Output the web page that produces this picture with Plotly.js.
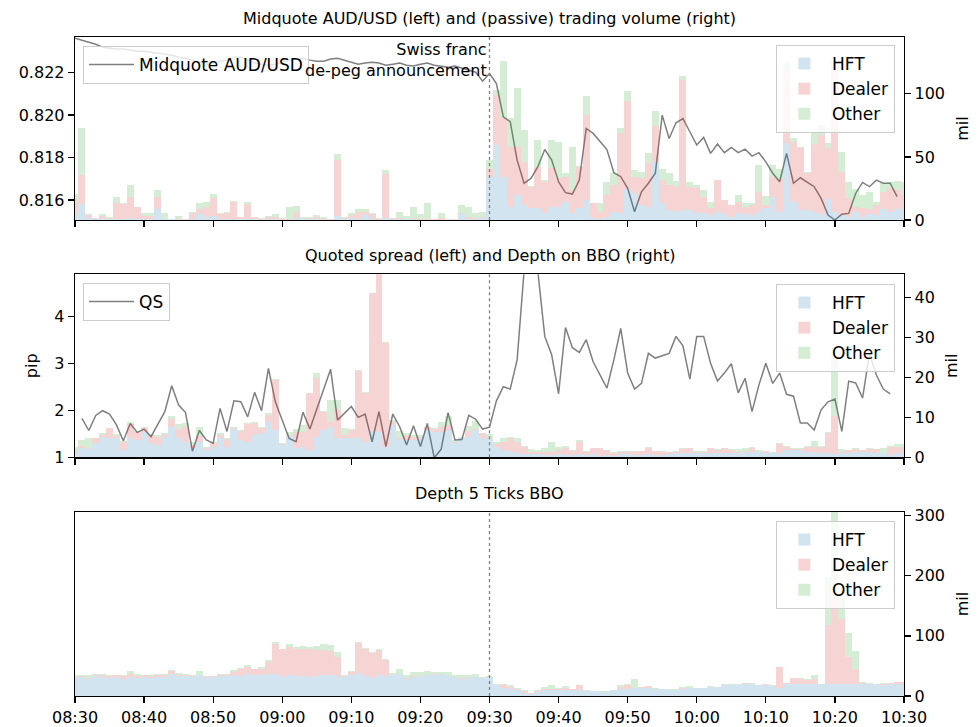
<!DOCTYPE html>
<html>
<head>
<meta charset="utf-8">
<script src="https://cdn.plot.ly/plotly-3.0.1.min.js"></script>
<style>html,body{margin:0;padding:0;background:#fff;}#chart{width:979px;height:727px;}</style>
</head>
<body>
<div id="chart"></div>
<script>
// ---- time grid: one observation per minute, 08:30 .. 10:30 (15 Jan 2015) ----
const DAY = "2015-01-15";
const START_MIN = 8 * 60 + 30;
const N_BARS = 121;
function minuteLabel(k) {
  const m = START_MIN + k;
  const h = Math.floor(m / 60), mm = m % 60;
  return DAY + " " + String(h).padStart(2, "0") + ":" + String(mm).padStart(2, "0");
}
const times = [];
for (let k = 0; k < N_BARS; k++) times.push(minuteLabel(k));

const tickTimes = ["08:30","08:40","08:50","09:00","09:10","09:20","09:30","09:40","09:50","10:00","10:10","10:20","10:30"];
const eventTime = "09:30";

// ---- Panel 1: midquote (left) and passive trading volume (right, mil) ----
const midquote = [0.82362,0.82353,0.82344,0.82334,0.8232,0.82315,0.82311,0.82311,0.82306,0.82301,
0.82301,0.82297,0.82292,0.82287,0.82282,0.82273,0.82268,0.82259,0.82249,0.8224,
0.82245,0.82254,0.82259,0.82273,0.82273,0.82259,0.82245,0.8224,0.82235,0.8224,
0.82249,0.82259,0.82264,0.82268,0.82259,0.82254,0.82254,0.82264,0.82268,0.82259,
0.82249,0.8224,0.82245,0.82249,0.82245,0.82235,0.8224,0.82245,0.82235,0.82231,
0.8224,0.82245,0.82235,0.82231,0.82226,0.82231,0.82221,0.82212,0.82202,0.8216,
0.82196,0.82149,0.81992,0.81969,0.81788,0.81679,0.81702,0.81757,0.81838,0.81788,
0.81686,0.81635,0.81628,0.81694,0.81937,0.81914,0.81878,0.81838,0.81729,0.8171,
0.81655,0.81545,0.81639,0.81679,0.81726,0.82,0.8189,0.81964,0.81984,0.81922,
0.81859,0.81895,0.8182,0.81864,0.81823,0.81848,0.81823,0.8184,0.81807,0.81823,
0.8178,0.81726,0.81686,0.8182,0.81679,0.81705,0.81686,0.81663,0.81608,0.81529,
0.81506,0.81533,0.81537,0.81631,0.81683,0.81663,0.81694,0.81679,0.81679,0.81616];

const volHFT = [5,13,1.3,0.5,0.5,0.5,1.0,1.0,1.5,1.0, 0.5,0.5,8.5,0.5,0.5,0.3,0.3,0.5,4.5,2.6,
3.4,0.5,0.5,0.5,0.5,0.5,0.5,0.3,0.5,0.5, 0.3,0.3,1.9,0.5,0.5,0.5,0.3,0.3,3.4,0.5,
1.9,0.5,4.0,0.5,0.3,1.3,0.5,0.5,0.5,0.5, 0.3,0.3,0.3,0.3,0.2,0.3,4.5,0.5,0.5,1.8,
34.4,59.5,34.4,10.6,19.8,11.9,9.3,9.3,5.8,10.6, 10.6,14.6,5.3,9.3,15.9,1.3,0.5,2.6,6.6,5.8,
24.3,21.2,11.9,10.6,46.3,13.2,7.9,6.6,7.9,7.9, 5.3,5.8,4,6.6,4.5,2.6,5.3,4.5,4,6.6,
9.8,18.5,6.6,61,14.5,8,8,6.6,5,17, 6,4,2.6,6.6,2.6,5,4,9,6.6,9, 9.5];
const volDealer = [10,22.7,2.5,0.8,3.0,1.0,12.8,12.0,16.5,9.0, 2.7,2.6,9.5,0.6,0,0.3,0.3,5.3,4.5,7.4,
14.3,4.5,5.1,13.5,1.6,12.5,1.6,0.8,2.0,2.1, 0.8,0.8,4.1,0.6,1.4,2.1,0.5,0.5,44.2,1.4,
1.9,6.1,2.6,4.5,0.5,35.2,0.8,0.8,0.5,0.8, 0.5,0.5,0.3,1.0,0.2,0.3,1.3,2.1,1.3,0.8,
5.8,39.7,46.3,47.6,38.4,34.4,17.2,33,24.6,30.4, 22.4,19.8,18.5,33,67.4,11.9,6.1,17.2,21.2,63,
69.6,13.2,21.1,34.4,27.8,18.5,19.9,19.9,103.2,18.6, 19.8,12.7,5.3,25.1,11.4,9.3,9.3,6.1,7.9,15.9,
2.1,15.9,26,58,47.5,49,29,54,62,40, 115,34,14.5,4,7,4,8,13.5,18.5,15, 10.5];
const volOther = [6,37,0.8,0.3,1.3,0.5,4.7,0.5,9.8,0.5, 2.6,2.7,5.8,4.7,0.3,2.4,0.3,0.5,4.8,4.2,
2.9,0.8,0.8,1.0,0.5,1.3,0.5,0.3,0.8,2.1, 0.3,9.5,5.4,1.1,0.2,1.6,1.7,0.3,4.8,0.5,
2.0,2.1,2.1,0.6,0.5,3.2,0.3,5.0,2.2,9.3, 4.0,12.7,0.3,4.5,0.2,0.3,6.2,7.4,4.0,3.7,
7.4,4.0,45.0,22.5,46.3,25.1,0.2,21.2,1.3,22.5, 29.2,2.6,34.4,0.3,14.6,0.3,6.6,10.6,9.2,4,
8,5.3,5.4,7.9,11.9,8.5,9.2,4.7,2.7,3.9, 2.7,5.3,5.3,0.3,0.3,0.3,5.2,2.6,1.3,21.2,
7.4,9.2,8,6,3,1,1,9,8,4, 5,16,13,14,10,13,2.5,6.5,5,7, 10];

// ---- Panel 2: quoted spread (left, pip, 08:31..10:28) and depth on BBO (right, mil) ----
const qsStart = 1;
const quotedSpread = [1.83,1.57,1.89,1.99,1.92,1.69,1.35,1.72,1.53,1.60,
1.44,1.71,1.97,2.52,2.11,1.95,1.13,1.57,1.37,1.30,
2.04,1.55,2.20,2.18,1.86,2.38,1.99,2.89,2.18,1.79,
1.40,1.33,1.96,1.60,2.01,2.43,2.87,1.79,1.94,2.08,
1.85,1.92,1.33,1.97,1.23,1.92,1.65,1.26,1.67,1.23,
1.72,0.99,1.17,1.95,1.37,1.38,1.89,1.81,1.60,1.64,
2.20,2.50,2.45,3.07,4.95,5.0,4.95,3.57,3.18,2.35,
3.76,3.33,3.23,3.50,3.03,2.75,2.47,3.07,3.74,2.79,
2.45,2.57,3.21,3.11,3.16,3.21,3.57,3.37,2.66,3.57,
3.57,3.00,2.62,2.79,2.99,2.37,2.68,1.97,2.54,3.00,
2.57,2.79,2.34,2.30,1.73,1.73,1.58,2.01,2.18,2.24,
1.55,2.62,2.58,2.26,3.2,2.75,2.45,2.35];

const depHFT = [1.4,2.4,2.0,3.5,5.2,4.9,4.75,1.8,4.75,4.3, 6.4,3.5,3.1,5.2,7.7,4.9,3.9,2.4,3.9,1.8,
2.7,4.75,2.7,7.0,4.3,3.9,5.6,6.0,8.9,6.8, 3.1,5.3,2.4,2.7,1.8,5.2,6.8,7.7,4.9,4.75,
4.75,4.75,3.9,6.7,6.4,2.7,8.1,4.6,4.3,4.3, 4.75,6.8,6.4,6.4,6.8,3.7,4.75,5.2,6.8,4.75,
4.6,2.7,1.8,1.6,1.0,0.75,0.75,0.75,0.6,0.6, 0.75,0.6,0.6,0.75,0.6,0.75,0.4,0.6,0.4,0.75,
0.75,0.6,0.6,0.75,0.6,0.6,0.75,1.0,1.0,1.0, 1.0,1.0,1.0,1.0,1.0,1.0,1.0,1.25,1.25,1.25,
1.2,1.0,1.2,1.8,1.8,1.8,1.4,1.4,1.2,1.0, 0.75,1.2,1.2,1.4,1.4,1.4,1.2,1.0,0.6,1.2, 1.2];
const depDealer = [0.4,0.4,0.25,1.25,0.4,2.35,0.65,2.1,3.5,2.1, 1.0,2.1,2.1,0.6,1.9,2.2,3.8,0.7,1.5,0.45,
0.8,0.85,1.9,0.25,2.3,4.35,2.9,1.25,1.7,12.5, 0.3,0.4,4.0,3.75,14.2,14.6,4.6,1.25,7.1,0.85,
2.1,16.8,12.3,34.3,45,26,0.8,0.2,1.3,0.8, 0.4,0.7,0.8,1.25,1.4,0.25,0.2,1.4,0.4,1.25,
0.2,0.55,2.1,3.15,2.9,1.95,0.65,0.65,0.65,0.8, 1.1,1.65,1.0,3.15,0.8,1.5,1.85,1.25,0.6,0.65,
0.65,0.8,1.0,1.65,1.0,0.8,0.5,0.4,1.1,1.25, 0.4,0.4,1.25,0.8,1.25,0.8,0.4,0.35,1.15,0.2,
0.4,0.2,2.2,0.8,0.4,0.25,1.25,1.25,1.5,5.2, 9.6,0.25,0.65,0.6,0.4,0.6,0.8,0.2,2.1,1.3, 1.3];
const depOther = [0.9,1.5,2.5,0.2,0.4,0.15,0.35,0.25,0.65,0.25, 0.25,0.2,0.4,0.2,0.7,1.15,0.8,0.8,2.3,0.45,
0.4,0.4,0.3,0.4,0.25,0.25,0.4,0.4,0.4,0.4, 0.3,0.65,0.7,1.7,0.2,1.25,0.2,5.4,2.3,1.65,
0.2,0.2,0.2,0.2,0.5,0.2,0.4,1.9,0.4,0.4, 0.4,0.2,0.1,1.25,2.1,0.4,0.25,1.3,1.9,0.2,
1.0,0.65,0.85,0.45,0.85,0.1,0.65,0.4,1.0,2.5, 0.8,0.65,0.25,0.4,0.1,0.1,0.1,0.1,0.4,0.2,
0.2,0.1,0.1,0.25,0.1,0.1,0.2,0.2,0.2,0.2, 0.2,0.3,0.2,0.25,0.1,0.25,0.65,0.65,0.25,0.4,
0,0.25,0.3,0.2,0.2,0.2,0.1,1.5,0.1,0.1, 15.25,0.6,0.1,0.25,0.1,0.25,0.1,1.1,0.1,0.8, 0.8];

// ---- Panel 3: depth 5 ticks from BBO (right, mil) ----
const d5HFT = [30.0,31.7,28.9,33.3,31.7,30.6,31.7,28.9,31.7,30.6, 31.7,30.6,31.7,31.7,37.2,32.8,32.8,31.7,34.4,30.6,
31.7,33.3,32.8,35.6,33.3,37.2,34.4,35.6,37.2,37.2, 31.7,34.4,33.3,33.3,31.7,33.3,34.4,34.4,33.3,31.7,
35.6,38.9,33.3,30.0,34.4,33.3,34.4,37.2,28.9,31.7, 32.8,34.4,34.4,37.2,33.3,31.7,28.9,30.6,31.7,30.0,
31.4,17.5,13.1,11.9,9.2,5.3,3.6,6.4,9.2,9.2, 9.2,10.3,10.3,9.2,7.5,7.5,6.4,6.4,9.2,11.9,
11.9,13.1,13.1,13.1,11.9,11.9,10.3,10.3,11.9,13.1, 13.1,13.1,14.7,14.7,17.5,18.6,18.6,20.3,20.3,17.5,
17.5,15.8,13.6,20.3,20.3,20.3,19.2,19.2,19.2,19.2, 19.2,19.2,19.2,19.2,20.3,19.2,19.2,18.6,20.3,20.3, 20.3];
const d5Dealer = [1.7,1.7,1.1,1.1,2.8,2.8,2.8,4.4,5.6,2.8, 2.8,2.8,2.8,3.9,3.9,2.8,1.7,1.7,1.1,1.1,
1.7,1.1,1.7,4.4,12.2,11.1,10.0,10.0,19.4,50.0, 46.1,47.2,45.6,45.6,46.1,43.9,41.7,40.6,31.7,1.7,
4.4,50.0,45.6,41.7,41.7,26.1,0,0,1.1,1.1, 0,1.1,1.7,0,0,0,1.1,1.1,0,0,
0,1.1,4.4,2.8,2.8,2.2,1.7,1.1,2.8,2.8, 2.8,2.8,1.7,8.3,1.1,0,0,0,0,2.8,
5.6,0,1.7,2.8,0,0,0,0,1.1,0, 0,0,0,0,1.1,0,0,1.1,0,1.1,
2.8,0.6,34.4,1.7,10,8.3,7.8,9.4,1.1,98.3, 160,109.4,45.5,26.1,1.1,1.1,1.1,1.7,1.1,2.8, 3];
const d5Other = [3.9,1.1,4.4,2.8,1.7,1.1,1.1,2.2,3.9,3.9, 1.1,2.2,2.8,1.7,1.7,2.8,2.8,1.1,5.6,1.7,
0,2.8,1.7,2.8,1.1,2.8,1.1,2.2,2.8,2.8, 1.1,4.4,2.8,3.9,3.9,5.6,10.0,9.4,8.3,1.7,
1.7,1.1,1.1,1.7,1.7,1.7,4.4,7.2,4.4,7.2, 7.8,5.6,3.9,2.8,6.1,3.9,4.4,3.9,5.6,1.7,
1.7,1.7,1.7,2.8,1.1,3.3,0,1.7,2.8,5.6, 1.1,2.8,0,0,0.6,0.6,1.1,1.1,1.1,2.8,
2.8,15.6,0,0,1.1,0,0.6,1.7,1.7,2.8, 0,0,1.1,0,0.6,0.6,1.7,0.6,1.1,0,
0,1.1,0,0,0,1.1,1.7,5.6,0,80.6, 150,33.3,40,29.4,1.7,1.7,0,1.1,0,0, 0];

const seriesNames = ["HFT", "Dealer", "Other"];

// ---- styling ----
const FONT = "DejaVu Sans, Liberation Sans, sans-serif";
const COL = {
  HFT: "rgba(31,119,180,0.2)",
  Dealer: "rgba(214,39,40,0.2)",
  Other: "rgba(44,160,44,0.2)"
};
const LINE_COL = "rgba(0,0,0,0.5)";

const tickVals = tickTimes.map(s => DAY + " " + s);
const xRange = [times[0], times[N_BARS - 1]];
const eventX = DAY + " " + eventTime;

function barTraces(vals, xa, ya, legendId) {
  return seriesNames.map((nm, i) => ({
    type: "bar", name: nm, x: times, y: vals[i],
    width: 60000, xaxis: xa, yaxis: ya, legend: legendId, showlegend: true,
    marker: { color: COL[nm], line: { width: 0 } },
    hoverinfo: "skip"
  }));
}

const traces = [];
traces.push({
  type: "scatter", mode: "lines", name: "Midquote AUD/USD",
  x: times.slice(0, midquote.length), y: midquote,
  xaxis: "x", yaxis: "y", legend: "legend", showlegend: true,
  line: { color: LINE_COL, width: 1.5 }
});
traces.push(...barTraces([volHFT, volDealer, volOther], "x", "y2", "legend2"));
traces.push({
  type: "scatter", mode: "lines", name: "QS",
  x: times.slice(qsStart, qsStart + quotedSpread.length), y: quotedSpread,
  xaxis: "x2", yaxis: "y3", legend: "legend3", showlegend: true,
  line: { color: LINE_COL, width: 1.5 }
});
traces.push(...barTraces([depHFT, depDealer, depOther], "x2", "y4", "legend4"));
traces.push(...barTraces([d5HFT, d5Dealer, d5Other], "x3", "y5", "legend5"));

function axBase() {
  return {
    showgrid: false, zeroline: false, showline: true, linecolor: "black", linewidth: 1.3,
    ticks: "outside", ticklen: 6, tickwidth: 1.3, tickcolor: "black",
    tickfont: { family: FONT, size: 16, color: "black" }
  };
}
function xAx(anchor, labels) {
  return Object.assign(axBase(), {
    type: "date", anchor: anchor, range: xRange.slice(), mirror: true,
    tickmode: "array", tickvals: tickVals.slice(), ticktext: tickTimes.slice(),
    showticklabels: labels, domain: [0, 1]
  });
}
function titleObj(t) { return { text: t, font: { family: FONT, size: 16, color: "black" }, standoff: 12 }; }

function legBase(extra) {
  return Object.assign({
    bgcolor: "rgba(255,255,255,0.8)", bordercolor: "#cccccc", borderwidth: 1,
    font: { family: FONT, size: 17, color: "black" }, traceorder: "normal",
    itemwidth: 45, visible: true
  }, extra);
}

const titleFont = { family: FONT, size: 16, color: "black" };
function paperY(px) { return (696 - px) / 659; }

const layout = {
  width: 979, height: 727,
  margin: { l: 75, r: 75, t: 37, b: 31 },
  paper_bgcolor: "white", plot_bgcolor: "white",
  font: { family: FONT, size: 16, color: "black" },
  barmode: "stack", bargap: 0,
  hovermode: false, showlegend: true,
  xaxis: xAx("y", false),
  xaxis2: xAx("y3", false),
  xaxis3: xAx("y5", true),
  yaxis: Object.assign(axBase(), {
    domain: [0.7223, 1], anchor: "x", range: [0.81506, 0.82368],
    tickmode: "array", tickvals: [0.816, 0.818, 0.820, 0.822],
    ticktext: ["0.816", "0.818", "0.820", "0.822"]
  }),
  yaxis2: Object.assign(axBase(), {
    domain: [0.7223, 1], overlaying: "y", side: "right", anchor: "x", range: [0, 145],
    tickmode: "array", tickvals: [0, 50, 100],
    title: titleObj("mil")
  }),
  yaxis3: Object.assign(axBase(), {
    domain: [0.3622, 0.6399], anchor: "x2", range: [1, 4.89],
    tickmode: "array", tickvals: [1, 2, 3, 4],
    title: titleObj("pip")
  }),
  yaxis4: Object.assign(axBase(), {
    domain: [0.3622, 0.6399], overlaying: "y3", side: "right", anchor: "x2", range: [0, 45.75],
    tickmode: "array", tickvals: [0, 10, 20, 30, 40],
    title: titleObj("mil")
  }),
  yaxis5: Object.assign(axBase(), {
    domain: [0, 0.2792], anchor: "x3", side: "right", mirror: true, range: [0, 306],
    tickmode: "array", tickvals: [0, 100, 200, 300],
    title: titleObj("mil")
  }),
  legend: legBase({ x: 0.0097, y: paperY(46), xanchor: "left", yanchor: "top" }),
  legend2: legBase({ x: 0.989, y: paperY(45), xanchor: "right", yanchor: "top" }),
  legend3: legBase({ x: 0.0097, y: paperY(283), xanchor: "left", yanchor: "top" }),
  legend4: legBase({ x: 0.989, y: paperY(284), xanchor: "right", yanchor: "top" }),
  legend5: legBase({ x: 0.989, y: paperY(521), xanchor: "right", yanchor: "top" }),
  shapes: [
    { type: "line", xref: "x", yref: "y domain", x0: eventX, x1: eventX, y0: 0, y1: 1,
      line: { color: "gray", width: 1.3, dash: "dot" } },
    { type: "line", xref: "x2", yref: "y3 domain", x0: eventX, x1: eventX, y0: 0, y1: 1,
      line: { color: "gray", width: 1.3, dash: "dot" } },
    { type: "line", xref: "x3", yref: "y5 domain", x0: eventX, x1: eventX, y0: 0, y1: 1,
      line: { color: "gray", width: 1.3, dash: "dot" } }
  ],
  annotations: [
    { text: "Midquote AUD/USD (left) and (passive) trading volume (right)", xref: "paper", yref: "paper",
      x: 0.5, y: paperY(18), xanchor: "center", yanchor: "middle", showarrow: false, font: titleFont },
    { text: "Quoted spread (left) and Depth on BBO (right)", xref: "paper", yref: "paper",
      x: 0.5, y: paperY(256), xanchor: "center", yanchor: "middle", showarrow: false, font: titleFont },
    { text: "Depth 5 Ticks BBO", xref: "paper", yref: "paper",
      x: 0.5, y: paperY(493), xanchor: "center", yanchor: "middle", showarrow: false, font: titleFont },
    { text: "Swiss franc<br>de-peg announcement", xref: "x", yref: "paper",
      x: eventX, xshift: -1, y: paperY(38), xanchor: "right", yanchor: "top", align: "right",
      showarrow: false, font: titleFont }
  ]
};

Plotly.newPlot("chart", traces, layout, { staticPlot: true, displayModeBar: false });
</script>
</body>
</html>
